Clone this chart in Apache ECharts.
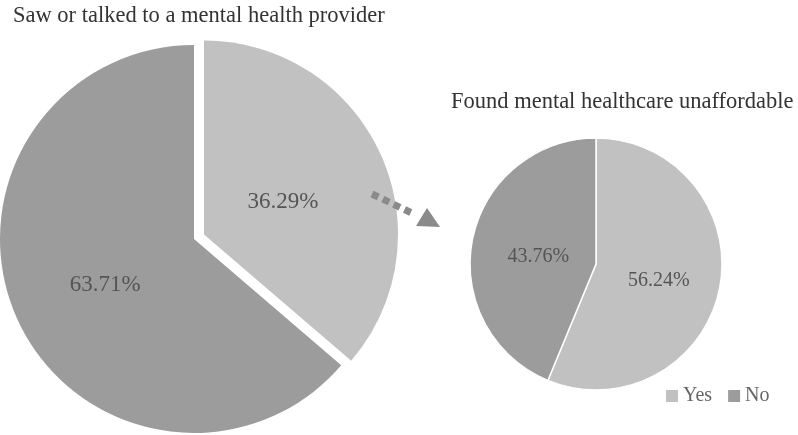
<!DOCTYPE html>
<html>
<head>
<meta charset="utf-8">
<script src="https://cdn.jsdelivr.net/npm/echarts@6/dist/echarts.min.js"></script>
<style>
  html, body { margin: 0; padding: 0; background: #fff; }
  #chart { width: 798px; height: 435px; }
</style>
</head>
<body>
<div id="chart"></div>
<script>
// two pies: left one explodes the "Yes" slice, right one breaks that slice down
const categories = ['Yes', 'No'];
const sawProvider = [36.29, 63.71];
const unaffordable = [56.24, 43.76];
const titles = ['Saw or talked to a mental health provider', 'Found mental healthcare unaffordable'];

const colors = ['#c1c1c1', '#9c9c9c'];
const serif = '"Liberation Serif", "DejaVu Serif", serif';
const textColor = '#555';

const chart = echarts.init(document.getElementById('chart'));

// label nudges: side padding moves text sideways, an empty rich line above pushes it down
const bigNudge = [{ pad: [0, 24, 0, 0], down: 18 }, { pad: [0, 0, 0, 4], down: 8 }];
const smallNudge = [{ pad: [0, 4, 0, 0], down: 8 }, { pad: [0, 0, 0, 14], down: 12 }];

const toData = (vals, explode, nudge) => vals.map((v, i) => ({
  name: categories[i],
  value: v,
  selected: explode && i === 0,
  label: {
    padding: nudge[i].pad,
    rich: { g: { height: nudge[i].down, lineHeight: nudge[i].down, fontSize: 1 } },
  },
}));

const pctLabel = size => ({
  position: 'inside',
  formatter: p => '{g| }\n{v|' + p.value.toFixed(2) + '%}',
  rich: { v: { fontFamily: serif, fontSize: size, color: textColor } },
});

chart.setOption({
  animation: false,
  color: colors,
  title: [
    { text: titles[0], left: 8, top: 0, textStyle: { fontFamily: serif, fontSize: 22.5, fontWeight: 'normal', color: '#333' } },
    { text: titles[1], left: 446, top: 86, textStyle: { fontFamily: serif, fontSize: 22.5, fontWeight: 'normal', color: '#333' } },
  ],
  legend: {
    data: categories,
    left: 661, top: 381,
    itemWidth: 12, itemHeight: 12, itemGap: 16,
    icon: 'rect',
    textStyle: { fontFamily: serif, fontSize: 20, color: '#666' },
  },
  graphic: [
    {
      type: 'line', z: 100,
      shape: { x1: 372, y1: 194, x2: 414, y2: 214 },
      style: { stroke: '#8a8a8a', lineWidth: 7, lineDash: [7, 5] },
    },
    {
      type: 'polygon', z: 100,
      shape: { points: [[440, 227], [416, 226], [427, 208]] },
      style: { fill: '#8a8a8a' },
    },
  ],
  series: [
    {
      type: 'pie',
      center: [194, 239],
      radius: [0, 194],
      startAngle: 90,
      selectedMode: 'single',
      selectedOffset: 11,
      label: pctLabel(23),
      labelLine: { show: false },
      emphasis: { disabled: true },
      data: toData(sawProvider, true, bigNudge),
    },
    {
      type: 'pie',
      center: [596, 264],
      radius: [0, 126],
      startAngle: 90,
      itemStyle: { borderColor: '#fff', borderWidth: 1.5 },
      label: pctLabel(20),
      labelLine: { show: false },
      emphasis: { disabled: true },
      data: toData(unaffordable, false, smallNudge),
    },
  ],
});
</script>
</body>
</html>
